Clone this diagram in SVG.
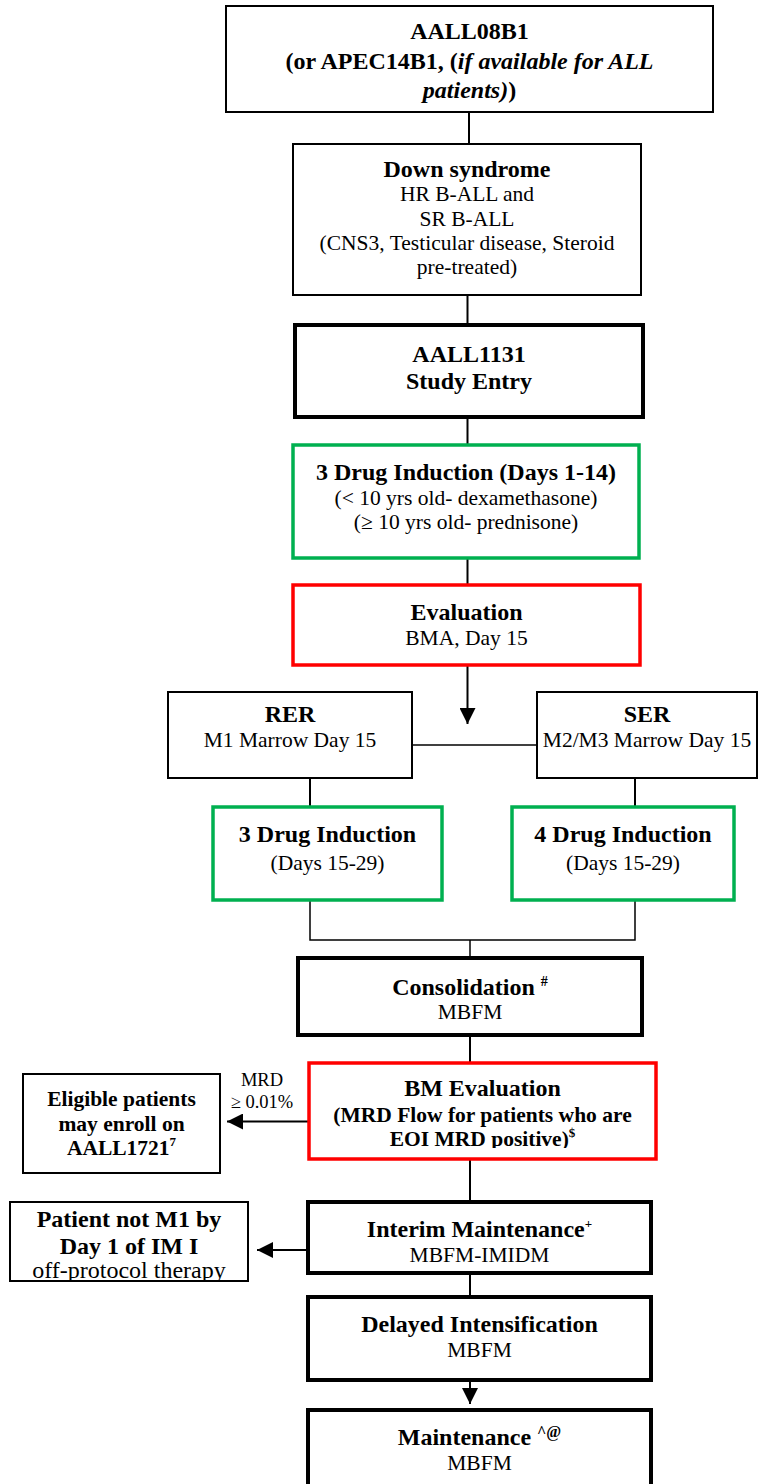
<svg xmlns="http://www.w3.org/2000/svg" width="769" height="1484" viewBox="0 0 769 1484">
  <style>
    text { font-family: "Liberation Serif", "Times New Roman", serif; fill: #000; text-anchor: middle; }
    .b { font-weight: bold; font-size: 24px; }
    .bs { font-weight: bold; font-size: 21.5px; }
    .r { font-size: 21.5px; }
    .lbl { font-size: 18.5px; }
    .box { fill: #fff; stroke: #000; stroke-width: 2; }
    .thick { fill: #fff; stroke: #000; stroke-width: 4; }
    .green { fill: #fff; stroke: #00B050; stroke-width: 3.5; }
    .red { fill: #fff; stroke: #FF0000; stroke-width: 3.5; }
    .ln { fill: none; stroke: #000; stroke-width: 2; }
    .thin { fill: none; stroke: #000; stroke-width: 1.5; }
    .arr { fill: none; stroke: #000; stroke-width: 2; marker-end: url(#head); }
  </style>
  <defs>
    <marker id="head" markerUnits="userSpaceOnUse" markerWidth="16" markerHeight="16" viewBox="0 0 16 16" refX="16" refY="8" orient="auto">
      <path d="M0,0 L16,8 L0,16 Z" fill="#000"/>
    </marker>
    <clipPath id="bmClip"><rect x="309" y="1063" width="347" height="85"/></clipPath>
    <clipPath id="offClip"><rect x="10" y="1202" width="238" height="78"/></clipPath>
  </defs>
  <rect width="769" height="1484" fill="#fff"/>

  <!-- connectors -->
  <g id="connectors">
    <line class="ln" x1="469" y1="112" x2="469" y2="144"/>
    <line class="ln" x1="467.5" y1="295" x2="467.5" y2="325"/>
    <line class="ln" x1="467.5" y1="417" x2="467.5" y2="445"/>
    <line class="ln" x1="467.5" y1="558" x2="467.5" y2="585"/>
    <line class="arr" x1="467.5" y1="665" x2="467.5" y2="724"/>
    <line class="thin" x1="412" y1="745" x2="537" y2="745"/>
    <line class="arr" x1="310" y1="778" x2="310" y2="826"/>
    <line class="arr" x1="635" y1="778" x2="635" y2="826"/>
    <polyline class="thin" points="310,900 310,940 635,940 635,900"/>
    <line class="thin" x1="470" y1="940" x2="470" y2="958"/>
    <line class="ln" x1="470" y1="1035" x2="470" y2="1063"/>
    <line class="arr" x1="309" y1="1121.5" x2="227" y2="1121.5"/>
    <line class="ln" x1="470" y1="1159" x2="470" y2="1202"/>
    <line class="arr" x1="306" y1="1250" x2="257" y2="1250"/>
    <line class="ln" x1="470" y1="1273" x2="470" y2="1297"/>
    <line class="arr" x1="470" y1="1380" x2="470" y2="1404"/>
    <text class="lbl" x="262" y="1086">MRD</text>
    <text class="lbl" x="262" y="1108">≥ 0.01%</text>
  </g>

  <g id="n-biology">
    <rect class="box" x="226" y="6" width="487" height="106"/>
    <text class="b" x="469.5" y="39">AALL08B1</text>
    <text class="b" x="469.5" y="68.5">(or APEC14B1, (<tspan font-style="italic">if available for ALL</tspan></text>
    <text class="b" x="469.5" y="98"><tspan font-style="italic">patients)</tspan>)</text>
  </g>

  <g id="n-down">
    <rect class="box" x="293" y="144" width="348" height="151"/>
    <text class="b" x="467" y="177">Down syndrome</text>
    <text class="r" x="467" y="201">HR B-ALL and</text>
    <text class="r" x="467" y="226">SR B-ALL</text>
    <text class="r" x="467" y="250">(CNS3, Testicular disease, Steroid</text>
    <text class="r" x="467" y="274">pre-treated)</text>
  </g>

  <g id="n-entry">
    <rect class="thick" x="295" y="325" width="348" height="92"/>
    <text class="b" x="469" y="362">AALL1131</text>
    <text class="b" x="469" y="389">Study Entry</text>
  </g>

  <g id="n-induction1">
    <rect class="green" x="293" y="445" width="346" height="113"/>
    <text class="b" x="466" y="480">3 Drug Induction (Days 1-14)</text>
    <text class="r" x="466" y="505">(&lt; 10 yrs old- dexamethasone)</text>
    <text class="r" x="466" y="529">(≥ 10 yrs old- prednisone)</text>
  </g>

  <g id="n-eval15">
    <rect class="red" x="293" y="585" width="347" height="80"/>
    <text class="b" x="466.5" y="620">Evaluation</text>
    <text class="r" x="466.5" y="645">BMA, Day 15</text>
  </g>

  <g id="n-rer">
    <rect class="box" x="168" y="692" width="244" height="86"/>
    <text class="b" x="290" y="722">RER</text>
    <text class="r" x="290" y="747">M1 Marrow Day 15</text>
  </g>

  <g id="n-ser">
    <rect class="box" x="537" y="692" width="220" height="86"/>
    <text class="b" x="647" y="722">SER</text>
    <text class="r" x="647" y="747">M2/M3 Marrow Day 15</text>
  </g>

  <g id="n-induction3">
    <rect class="green" x="213" y="807" width="229" height="93"/>
    <text class="b" x="327.5" y="842">3 Drug Induction</text>
    <text class="r" x="327.5" y="870">(Days 15-29)</text>
  </g>

  <g id="n-induction4">
    <rect class="green" x="512" y="807" width="222" height="93"/>
    <text class="b" x="623" y="842">4 Drug Induction</text>
    <text class="r" x="623" y="870">(Days 15-29)</text>
  </g>

  <g id="n-consolidation">
    <rect class="thick" x="298" y="958" width="344" height="77"/>
    <text class="b" x="470" y="995">Consolidation <tspan font-size="14" dy="-9">#</tspan></text>
    <text class="r" x="470" y="1019">MBFM</text>
  </g>

  <g id="n-bmeval">
    <rect class="red" x="309" y="1063" width="347" height="96"/>
    <text class="b" x="482.5" y="1096">BM Evaluation</text>
    <text class="bs" x="482.5" y="1122">(MRD Flow for patients who are</text>
    <text class="bs" x="482.5" y="1146" clip-path="url(#bmClip)">EOI MRD positive)<tspan font-size="13" dy="-9">$</tspan></text>
  </g>

  <g id="n-aall1721">
    <rect class="box" x="23" y="1074" width="197" height="99" stroke-width="3"/>
    <text class="bs" x="121.5" y="1106">Eligible patients</text>
    <text class="bs" x="121.5" y="1131">may enroll on</text>
    <text class="bs" x="121.5" y="1155">AALL1721<tspan font-size="13" dy="-9">7</tspan></text>
  </g>

  <g id="n-interim">
    <rect class="thick" x="308" y="1202" width="343" height="71"/>
    <text class="b" x="479.5" y="1237">Interim Maintenance<tspan font-size="13" dy="-9">+</tspan></text>
    <text class="r" x="479.5" y="1262">MBFM-IMIDM</text>
  </g>

  <g id="n-offprotocol">
    <rect class="box" x="10" y="1202" width="238" height="79" stroke-width="3.5"/>
    <text class="b" x="129" y="1227">Patient not M1 by</text>
    <text class="b" x="129" y="1254">Day 1 of IM I</text>
    <text x="129" y="1278" font-size="24" clip-path="url(#offClip)">off-protocol therapy</text>
  </g>

  <g id="n-delayed">
    <rect class="thick" x="308" y="1297" width="343" height="83"/>
    <text class="b" x="479.5" y="1332">Delayed Intensification</text>
    <text class="r" x="479.5" y="1357">MBFM</text>
  </g>

  <g id="n-maintenance">
    <rect class="thick" x="308" y="1410" width="343" height="80"/>
    <text class="b" x="479.5" y="1445">Maintenance <tspan font-size="16" dy="-8">^@</tspan></text>
    <text class="r" x="479.5" y="1470">MBFM</text>
  </g>
</svg>
